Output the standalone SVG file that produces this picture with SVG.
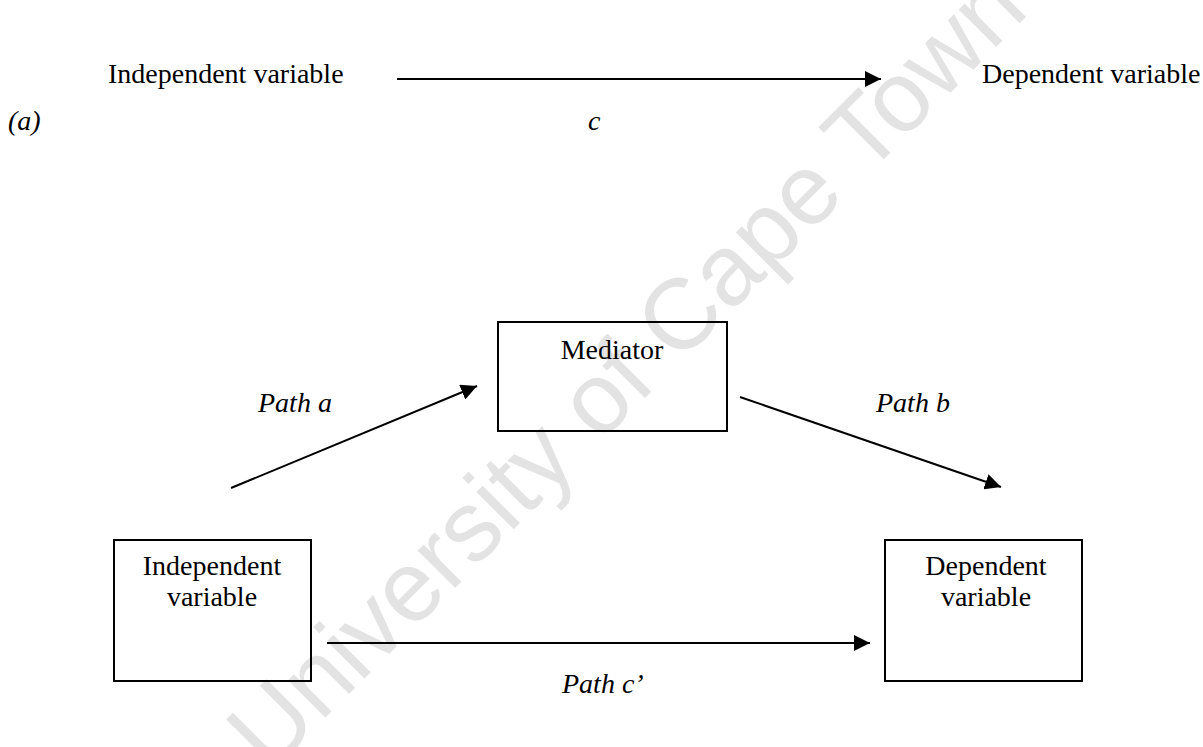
<svg xmlns="http://www.w3.org/2000/svg" width="1203" height="747" viewBox="0 0 1203 747">
<style>
  .t { font-family: "Liberation Serif", "Times New Roman", serif; font-size: 28px; fill: #000; }
  .i { font-style: italic; }
  .box { fill: none; stroke: #000; stroke-width: 2; }
  .edge { fill: none; stroke: #000; stroke-width: 2; }
  .wm { font-family: "Liberation Sans", Arial, sans-serif; font-size: 100px; fill: #e3e3e3; }
</style>
<defs>
  <marker id="arr" markerUnits="userSpaceOnUse" markerWidth="16" markerHeight="16" viewBox="0 0 16 16" refX="16" refY="8" orient="auto">
    <path d="M0,0 L16,8 L0,16 Z" fill="#000"/>
  </marker>
</defs>
<rect width="1203" height="747" fill="#fff"/>
<text class="wm" x="650" y="393" text-anchor="middle" transform="rotate(-45 650 393)">University of Cape Town</text>

<g id="panel-a">
  <text class="t" x="108" y="83">Independent variable</text>
  <text class="t" x="982" y="83">Dependent variable</text>
  <text class="t i" x="8" y="130">(a)</text>
  <text class="t i" x="588" y="130">c</text>
</g>

<g id="mediator">
  <rect class="box" x="498" y="322" width="229" height="109"/>
  <text class="t" x="612" y="359" text-anchor="middle">Mediator</text>
</g>
<g id="independent">
  <rect class="box" x="114" y="540" width="197" height="141"/>
  <text class="t" x="212" y="575" text-anchor="middle">Independent</text>
  <text class="t" x="212" y="606" text-anchor="middle">variable</text>
</g>
<g id="dependent">
  <rect class="box" x="885" y="540" width="197" height="141"/>
  <text class="t" x="986" y="575" text-anchor="middle">Dependent</text>
  <text class="t" x="986" y="606" text-anchor="middle">variable</text>
</g>

<g id="connectors">
  <line class="edge" x1="397" y1="79" x2="881" y2="79" marker-end="url(#arr)"/>
  <line class="edge" x1="231" y1="488" x2="477" y2="386" marker-end="url(#arr)"/>
  <line class="edge" x1="740" y1="397" x2="1001" y2="487" marker-end="url(#arr)"/>
  <line class="edge" x1="327" y1="643" x2="870" y2="643" marker-end="url(#arr)"/>
</g>
<g id="labels">
  <text class="t i" x="258" y="412">Path a</text>
  <text class="t i" x="876" y="412">Path b</text>
  <text class="t i" x="562" y="693">Path c’</text>
</g>
</svg>
